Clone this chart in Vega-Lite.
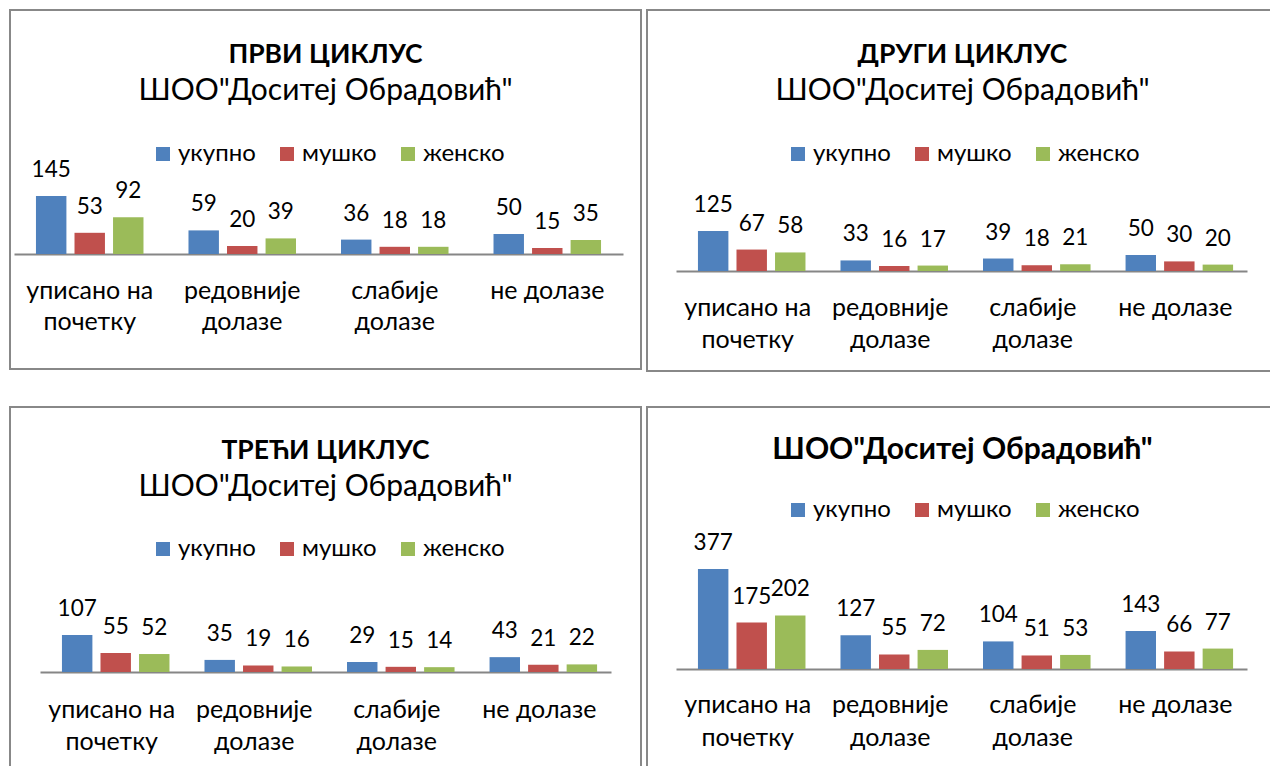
{
  "$schema": "https://vega.github.io/schema/vega-lite/v6.json",
  "padding": {"left": 9, "top": 9, "right": 0, "bottom": 0},
  "config": {
    "font": "Lato",
    "view": {"stroke": "#888888", "strokeWidth": 2},
    "text": {"font": "Lato", "fontSize": 22.5, "color": "#000000"}
  },
  "datasets": {
    "d": [
      {"panel": "1", "category": "уписано на почетку", "series": "укупно", "value": 145},
      {"panel": "1", "category": "уписано на почетку", "series": "мушко", "value": 53},
      {"panel": "1", "category": "уписано на почетку", "series": "женско", "value": 92},
      {"panel": "1", "category": "редовније долазе", "series": "укупно", "value": 59},
      {"panel": "1", "category": "редовније долазе", "series": "мушко", "value": 20},
      {"panel": "1", "category": "редовније долазе", "series": "женско", "value": 39},
      {"panel": "1", "category": "слабије долазе", "series": "укупно", "value": 36},
      {"panel": "1", "category": "слабије долазе", "series": "мушко", "value": 18},
      {"panel": "1", "category": "слабије долазе", "series": "женско", "value": 18},
      {"panel": "1", "category": "не долазе", "series": "укупно", "value": 50},
      {"panel": "1", "category": "не долазе", "series": "мушко", "value": 15},
      {"panel": "1", "category": "не долазе", "series": "женско", "value": 35},
      {"panel": "2", "category": "уписано на почетку", "series": "укупно", "value": 125},
      {"panel": "2", "category": "уписано на почетку", "series": "мушко", "value": 67},
      {"panel": "2", "category": "уписано на почетку", "series": "женско", "value": 58},
      {"panel": "2", "category": "редовније долазе", "series": "укупно", "value": 33},
      {"panel": "2", "category": "редовније долазе", "series": "мушко", "value": 16},
      {"panel": "2", "category": "редовније долазе", "series": "женско", "value": 17},
      {"panel": "2", "category": "слабије долазе", "series": "укупно", "value": 39},
      {"panel": "2", "category": "слабије долазе", "series": "мушко", "value": 18},
      {"panel": "2", "category": "слабије долазе", "series": "женско", "value": 21},
      {"panel": "2", "category": "не долазе", "series": "укупно", "value": 50},
      {"panel": "2", "category": "не долазе", "series": "мушко", "value": 30},
      {"panel": "2", "category": "не долазе", "series": "женско", "value": 20},
      {"panel": "3", "category": "уписано на почетку", "series": "укупно", "value": 107},
      {"panel": "3", "category": "уписано на почетку", "series": "мушко", "value": 55},
      {"panel": "3", "category": "уписано на почетку", "series": "женско", "value": 52},
      {"panel": "3", "category": "редовније долазе", "series": "укупно", "value": 35},
      {"panel": "3", "category": "редовније долазе", "series": "мушко", "value": 19},
      {"panel": "3", "category": "редовније долазе", "series": "женско", "value": 16},
      {"panel": "3", "category": "слабије долазе", "series": "укупно", "value": 29},
      {"panel": "3", "category": "слабије долазе", "series": "мушко", "value": 15},
      {"panel": "3", "category": "слабије долазе", "series": "женско", "value": 14},
      {"panel": "3", "category": "не долазе", "series": "укупно", "value": 43},
      {"panel": "3", "category": "не долазе", "series": "мушко", "value": 21},
      {"panel": "3", "category": "не долазе", "series": "женско", "value": 22},
      {"panel": "4", "category": "уписано на почетку", "series": "укупно", "value": 377},
      {"panel": "4", "category": "уписано на почетку", "series": "мушко", "value": 175},
      {"panel": "4", "category": "уписано на почетку", "series": "женско", "value": 202},
      {"panel": "4", "category": "редовније долазе", "series": "укупно", "value": 127},
      {"panel": "4", "category": "редовније долазе", "series": "мушко", "value": 55},
      {"panel": "4", "category": "редовније долазе", "series": "женско", "value": 72},
      {"panel": "4", "category": "слабије долазе", "series": "укупно", "value": 104},
      {"panel": "4", "category": "слабије долазе", "series": "мушко", "value": 51},
      {"panel": "4", "category": "слабије долазе", "series": "женско", "value": 53},
      {"panel": "4", "category": "не долазе", "series": "укупно", "value": 143},
      {"panel": "4", "category": "не долазе", "series": "мушко", "value": 66},
      {"panel": "4", "category": "не долазе", "series": "женско", "value": 77}
    ]
  },
  "spacing": 34,
  "resolve": {"scale": {"color": "independent"}, "legend": {"color": "independent"}},
  "vconcat": [
    {
      "hconcat": [
        {
          "width": 631, "height": 359,
          "title": {"text": "ПРВИ ЦИКЛУС", "subtitle": "ШОО\"Доситеј Обрадовић\"", "anchor": "middle", "frame": "group", "offset": -95.5, "font": "Lato", "fontSize": 26.5, "fontWeight": "bold", "color": "#000000", "subtitleFont": "Lato", "subtitleFontSize": 30, "subtitleFontWeight": "normal", "subtitleColor": "#000000", "subtitlePadding": 7},
          "data": {"name": "d"},
          "transform": [{"filter": {"field": "panel", "equal": "1"}}],
          "encoding": {
            "x": {"field": "category", "type": "nominal", "sort": ["уписано на почетку", "редовније долазе", "слабије долазе", "не долазе"],
              "scale": {"range": [4, 613], "paddingInner": 0.295, "paddingOuter": 0.144},
              "axis": {"orient": "bottom", "offset": -115, "title": null, "domain": true, "domainColor": "#868686", "domainWidth": 2, "ticks": false, "tickSize": 0, "grid": false, "labelPadding": 44, "labelBaseline": "alphabetic", "labelAngle": 0, "labelFont": "Lato", "labelFontSize": 25, "labelColor": "#000000", "labelLineHeight": 31, "labelLimit": 0, "labelOverlap": false,
                "labelExpr": "datum.label == 'уписано на почетку' ? ['уписано на', 'почетку'] : datum.label == 'редовније долазе' ? ['редовније', 'долазе'] : datum.label == 'слабије долазе' ? ['слабије', 'долазе'] : datum.label"}},
            "xOffset": {"field": "series", "type": "nominal", "sort": ["укупно", "мушко", "женско"], "scale": {"paddingInner": 0.21, "paddingOuter": 0}},
            "y": {"field": "value", "type": "quantitative", "stack": null, "scale": {"domain": [-287.5, 610], "nice": false}, "axis": null}
          },
          "layer": [
            {"mark": {"type": "bar"},
             "encoding": {"color": {"field": "series", "type": "nominal", "sort": ["укупно", "мушко", "женско"],
               "scale": {"domain": ["укупно", "мушко", "женско"], "range": ["#4F81BD", "#C0504D", "#9BBB59"]},
               "legend": {"orient": "none", "legendX": 141, "legendY": 132, "direction": "horizontal", "title": null, "symbolType": "square", "symbolSize": 196, "symbolStrokeWidth": 0, "labelFont": "Lato", "labelFontSize": 24, "labelColor": "#000000", "columnPadding": 19, "labelOffset": 3, "padding": 0}}}},
            {"mark": {"type": "text", "dy": -19, "baseline": "alphabetic", "font": "Lato", "fontSize": 22.5, "color": "#000000"},
             "encoding": {"text": {"field": "value", "type": "quantitative"}}}
          ]
        },
        {
          "width": 631, "height": 361,
          "title": {"text": "ДРУГИ ЦИКЛУС", "subtitle": "ШОО\"Доситеј Обрадовић\"", "anchor": "middle", "frame": "group", "offset": -96, "font": "Lato", "fontSize": 26.5, "fontWeight": "bold", "color": "#000000", "subtitleFont": "Lato", "subtitleFontSize": 30, "subtitleFontWeight": "normal", "subtitleColor": "#000000", "subtitlePadding": 8},
          "data": {"name": "d"},
          "transform": [{"filter": {"field": "panel", "equal": "2"}}],
          "encoding": {
            "x": {"field": "category", "type": "nominal", "sort": ["уписано на почетку", "редовније долазе", "слабије долазе", "не долазе"],
              "scale": {"range": [29, 600], "paddingInner": 0.302, "paddingOuter": 0.154},
              "axis": {"orient": "bottom", "offset": -100, "title": null, "domain": true, "domainColor": "#868686", "domainWidth": 2, "ticks": false, "tickSize": 0, "grid": false, "labelPadding": 44, "labelBaseline": "alphabetic", "labelAngle": 0, "labelFont": "Lato", "labelFontSize": 25, "labelColor": "#000000", "labelLineHeight": 32, "labelLimit": 0, "labelOverlap": false,
                "labelExpr": "datum.label == 'уписано на почетку' ? ['уписано на', 'почетку'] : datum.label == 'редовније долазе' ? ['редовније', 'долазе'] : datum.label == 'слабије долазе' ? ['слабије', 'долазе'] : datum.label"}},
            "xOffset": {"field": "series", "type": "nominal", "sort": ["укупно", "мушко", "женско"], "scale": {"paddingInner": 0.2, "paddingOuter": 0}},
            "y": {"field": "value", "type": "quantitative", "stack": null, "scale": {"domain": [-312.5, 815.6], "nice": false}, "axis": null}
          },
          "layer": [
            {"mark": {"type": "bar"},
             "encoding": {"color": {"field": "series", "type": "nominal", "sort": ["укупно", "мушко", "женско"],
               "scale": {"domain": ["укупно", "мушко", "женско"], "range": ["#4F81BD", "#C0504D", "#9BBB59"]},
               "legend": {"orient": "none", "legendX": 139, "legendY": 132, "direction": "horizontal", "title": null, "symbolType": "square", "symbolSize": 196, "symbolStrokeWidth": 0, "labelFont": "Lato", "labelFontSize": 24, "labelColor": "#000000", "columnPadding": 19, "labelOffset": 3, "padding": 0}}}},
            {"mark": {"type": "text", "dy": -19, "baseline": "alphabetic", "font": "Lato", "fontSize": 22.5, "color": "#000000"},
             "encoding": {"text": {"field": "value", "type": "quantitative"}}}
          ]
        }
      ],
      "spacing": 6,
      "bounds": "flush",
      "resolve": {"scale": {"color": "independent"}, "legend": {"color": "independent"}}
    },
    {
      "hconcat": [
        {
          "width": 631, "height": 361,
          "title": {"text": "ТРЕЋИ ЦИКЛУС", "subtitle": "ШОО\"Доситеј Обрадовић\"", "anchor": "middle", "frame": "group", "offset": -95, "font": "Lato", "fontSize": 26.5, "fontWeight": "bold", "color": "#000000", "subtitleFont": "Lato", "subtitleFontSize": 30, "subtitleFontWeight": "normal", "subtitleColor": "#000000", "subtitlePadding": 8},
          "data": {"name": "d"},
          "transform": [{"filter": {"field": "panel", "equal": "3"}}],
          "encoding": {
            "x": {"field": "category", "type": "nominal", "sort": ["уписано на почетку", "редовније долазе", "слабије долазе", "не долазе"],
              "scale": {"range": [30, 601], "paddingInner": 0.302, "paddingOuter": 0.154},
              "axis": {"orient": "bottom", "offset": -96, "title": null, "domain": true, "domainColor": "#868686", "domainWidth": 2, "ticks": false, "tickSize": 0, "grid": false, "labelPadding": 45, "labelBaseline": "alphabetic", "labelAngle": 0, "labelFont": "Lato", "labelFontSize": 25, "labelColor": "#000000", "labelLineHeight": 32, "labelLimit": 0, "labelOverlap": false,
                "labelExpr": "datum.label == 'уписано на почетку' ? ['уписано на', 'почетку'] : datum.label == 'редовније долазе' ? ['редовније', 'долазе'] : datum.label == 'слабије долазе' ? ['слабије', 'долазе'] : datum.label"}},
            "xOffset": {"field": "series", "type": "nominal", "sort": ["укупно", "мушко", "женско"], "scale": {"paddingInner": 0.2, "paddingOuter": 0}},
            "y": {"field": "value", "type": "quantitative", "stack": null, "scale": {"domain": [-277.6, 766.4], "nice": false}, "axis": null}
          },
          "layer": [
            {"mark": {"type": "bar"},
             "encoding": {"color": {"field": "series", "type": "nominal", "sort": ["укупно", "мушко", "женско"],
               "scale": {"domain": ["укупно", "мушко", "женско"], "range": ["#4F81BD", "#C0504D", "#9BBB59"]},
               "legend": {"orient": "none", "legendX": 141, "legendY": 130, "direction": "horizontal", "title": null, "symbolType": "square", "symbolSize": 196, "symbolStrokeWidth": 0, "labelFont": "Lato", "labelFontSize": 24, "labelColor": "#000000", "columnPadding": 19, "labelOffset": 3, "padding": 0}}}},
            {"mark": {"type": "text", "dy": -19, "baseline": "alphabetic", "font": "Lato", "fontSize": 22.5, "color": "#000000"},
             "encoding": {"text": {"field": "value", "type": "quantitative"}}}
          ]
        },
        {
          "width": 631, "height": 361,
          "title": {"text": "ШОО\"Доситеј Обрадовић\"", "anchor": "middle", "frame": "group", "offset": -58, "font": "Lato", "fontSize": 30, "fontWeight": "bold", "color": "#000000"},
          "data": {"name": "d"},
          "transform": [{"filter": {"field": "panel", "equal": "4"}}],
          "encoding": {
            "x": {"field": "category", "type": "nominal", "sort": ["уписано на почетку", "редовније долазе", "слабије долазе", "не долазе"],
              "scale": {"range": [29, 600], "paddingInner": 0.302, "paddingOuter": 0.154},
              "axis": {"orient": "bottom", "offset": -99, "title": null, "domain": true, "domainColor": "#868686", "domainWidth": 2, "ticks": false, "tickSize": 0, "grid": false, "labelPadding": 43, "labelBaseline": "alphabetic", "labelAngle": 0, "labelFont": "Lato", "labelFontSize": 25, "labelColor": "#000000", "labelLineHeight": 33, "labelLimit": 0, "labelOverlap": false,
                "labelExpr": "datum.label == 'уписано на почетку' ? ['уписано на', 'почетку'] : datum.label == 'редовније долазе' ? ['редовније', 'долазе'] : datum.label == 'слабије долазе' ? ['слабије', 'долазе'] : datum.label"}},
            "xOffset": {"field": "series", "type": "nominal", "sort": ["укупно", "мушко", "женско"], "scale": {"paddingInner": 0.2, "paddingOuter": 0}},
            "y": {"field": "value", "type": "quantitative", "stack": null, "scale": {"domain": [-373.2, 987.7], "nice": false}, "axis": null}
          },
          "layer": [
            {"mark": {"type": "bar"},
             "encoding": {"color": {"field": "series", "type": "nominal", "sort": ["укупно", "мушко", "женско"],
               "scale": {"domain": ["укупно", "мушко", "женско"], "range": ["#4F81BD", "#C0504D", "#9BBB59"]},
               "legend": {"orient": "none", "legendX": 139, "legendY": 91, "direction": "horizontal", "title": null, "symbolType": "square", "symbolSize": 196, "symbolStrokeWidth": 0, "labelFont": "Lato", "labelFontSize": 24, "labelColor": "#000000", "columnPadding": 19, "labelOffset": 3, "padding": 0}}}},
            {"mark": {"type": "text", "dy": -19, "baseline": "alphabetic", "font": "Lato", "fontSize": 22.5, "color": "#000000"},
             "encoding": {"text": {"field": "value", "type": "quantitative"}}}
          ]
        }
      ],
      "spacing": 6,
      "bounds": "flush",
      "resolve": {"scale": {"color": "independent"}, "legend": {"color": "independent"}}
    }
  ]
}
